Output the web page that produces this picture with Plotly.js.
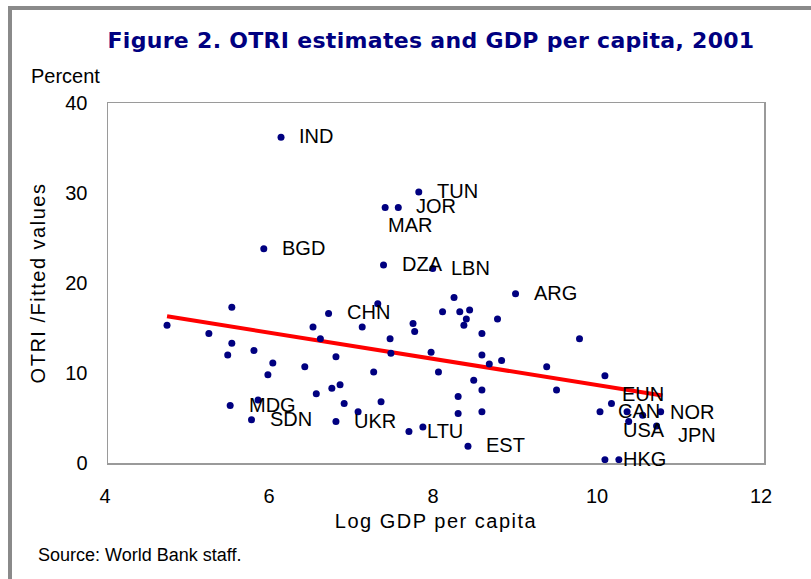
<!DOCTYPE html>
<html>
<head>
<meta charset="utf-8">
<script src="https://cdn.plot.ly/plotly-3.0.1.min.js"></script>
<style>
  html, body { margin: 0; padding: 0; background: #fff; overflow: hidden; }
  #chart { width: 811px; height: 579px; position: relative; }
  #frame { position: absolute; left: 8px; top: 6px; width: 900px; height: 700px;
           border-left: 4px solid #8a8a8a; border-top: 4px solid #8a8a8a; pointer-events: none; }
  text.xtitle, text.ytitle { letter-spacing: 1.5px; }
  text.gtitle { letter-spacing: 0.3px; }
</style>
</head>
<body>
<div id="chart"></div>
<div id="frame"></div>
<script>
// Log GDP per capita (x) and OTRI (y)
const logGdp = [4.72, 5.51, 5.23, 5.51, 5.46, 5.78, 6.01, 5.95, 6.40, 6.50, 6.69, 6.59, 6.78, 7.10, 7.29, 7.44, 7.45, 7.24, 7.72, 7.74, 7.94, 8.03, 8.08,
                6.54, 6.73, 6.83, 6.88, 7.33, 7.05, 5.49, 5.83, 5.75, 6.78, 7.67, 7.84,
                6.11, 7.79, 7.38, 7.54, 5.90, 7.36, 7.96,
                8.97, 8.22, 8.29, 8.41, 8.37, 8.34, 8.75, 8.56, 8.56, 8.65, 8.80, 9.75, 9.35, 9.47, 8.46, 8.56, 8.27, 8.27, 8.56, 8.39,
                10.06, 10.14, 10.00, 10.33, 10.52, 10.74, 10.35, 10.69, 10.06, 10.23];
const otri = [15.3, 17.3, 14.4, 13.3, 12.0, 12.5, 11.1, 9.8, 10.7, 15.1, 16.6, 13.8, 11.8, 15.1, 17.7, 13.8, 12.2, 10.1, 15.5, 14.6, 12.3, 10.1, 16.8,
              7.7, 8.3, 8.7, 6.6, 6.8, 5.7, 6.4, 7.0, 4.8, 4.6, 3.5, 4.0,
              36.2, 30.1, 28.4, 28.4, 23.8, 22.0, 21.6,
              18.8, 18.4, 16.8, 17.0, 16.0, 15.3, 16.0, 14.4, 12.0, 11.0, 11.4, 13.8, 10.7, 8.1, 9.2, 8.1, 7.4, 5.5, 5.7, 1.85,
              9.7, 6.6, 5.7, 5.7, 5.3, 5.7, 4.6, 4.1, 0.37, 0.37];
const codes = ['', '', '', '', '', '', '', '', '', '', '', '', '', '', 'CHN', '', '', '', '', '', '', '', '',
               '', '', '', '', '', '', '', 'MDG', 'SDN', 'UKR', 'LTU', '',
               'IND', 'TUN', 'MAR', 'JOR', 'BGD', 'DZA', 'LBN',
               'ARG', '', '', '', '', '', '', '', '', '', '', '', '', '', '', '', '', '', '', 'EST',
               '', 'EUN', 'CAN', '', '', 'NOR', 'USA', 'JPN', 'HKG', ''];
// Fitted values line (end points)
const fitX = [4.72, 10.76];
const fitY = [16.3, 7.5];
const xTicks = [4, 6, 8, 10, 12];
const yTicks = [0, 10, 20, 30, 40];

// label placement (pixel offsets of label left edge / centre from the dot)
const defaultShift = [19, 0];
const labelShift = {
  MAR: [4, 19], CHN: [-30, 9], MDG: [-8, 6], EUN: [12, -9],
  NOR: [10, 1], USA: [-5, 9], JPN: [22, 10]
};

const labelFont = {family: 'Liberation Sans, Arial, sans-serif', size: 20, color: '#000'};
const annotations = [];
codes.forEach((c, i) => {
  if (!c) return;
  const s = labelShift[c] || defaultShift;
  annotations.push({
    x: logGdp[i], y: otri[i], xref: 'x', yref: 'y', text: c, showarrow: false,
    xanchor: 'left', yanchor: 'middle', xshift: s[0] - 3, yshift: -s[1] + 1,
    font: labelFont
  });
});
annotations.push({
  xref: 'paper', yref: 'paper', x: (29 - 108) / 656, y: (463 - 76) / 360,
  xanchor: 'left', yanchor: 'middle', showarrow: false, text: 'Percent',
  font: {family: 'Liberation Sans, Arial, sans-serif', size: 20, color: '#000'}
});
annotations.push({
  xref: 'paper', yref: 'paper', x: (36 - 108) / 656, y: (463 - 555) / 360,
  xanchor: 'left', yanchor: 'middle', showarrow: false, text: 'Source: World Bank staff.',
  font: {family: 'Liberation Sans, Arial, sans-serif', size: 18, color: '#000'}
});

const traces = [
  {x: fitX, y: fitY, mode: 'lines', type: 'scatter', line: {color: '#ff0000', width: 4}, hoverinfo: 'skip'},
  {x: logGdp, y: otri, mode: 'markers', type: 'scatter', marker: {color: '#000080', size: 7}, text: codes}
];

const axisFont = {family: 'Liberation Sans, Arial, sans-serif', size: 20, color: '#000'};
const layout = {
  width: 811, height: 579,
  margin: {l: 108, r: 47, t: 103, b: 116},
  paper_bgcolor: '#fff', plot_bgcolor: '#fff',
  showlegend: false,
  title: {
    text: 'Figure 2. OTRI estimates and GDP per capita, 2001',
    font: {family: 'DejaVu Sans, Verdana, sans-serif', size: 22, color: '#000080', weight: 'bold'},
    x: 431 / 811, xanchor: 'center', xref: 'container',
    y: 1 - 40 / 579, yanchor: 'middle', yref: 'container'
  },
  xaxis: {
    range: [4, 12], tickvals: xTicks, ticktext: xTicks.map(String),
    showgrid: false, zeroline: false, ticks: '',
    showline: true, mirror: true, linecolor: '#9a9a9a', linewidth: 1.5,
    tickfont: axisFont, ticklabelstandoff: 14, ticklabelshift: -3,
    title: {text: 'Log GDP per capita', font: axisFont, standoff: 8}
  },
  yaxis: {
    range: [0, 40], tickvals: yTicks, ticktext: yTicks.map(String),
    showgrid: false, zeroline: false, ticks: '',
    showline: true, mirror: true, linecolor: '#9a9a9a', linewidth: 1.5,
    tickfont: axisFont, ticklabelstandoff: 15,
    title: {text: 'OTRI /Fitted values', font: axisFont, standoff: 14}
  },
  annotations: annotations
};

Plotly.newPlot('chart', traces, layout, {displayModeBar: false, staticPlot: true});
</script>
</body>
</html>
